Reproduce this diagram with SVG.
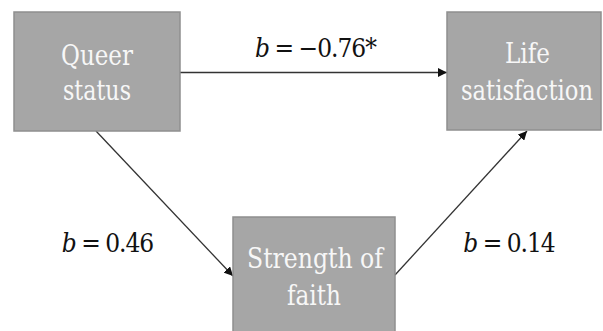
<svg xmlns="http://www.w3.org/2000/svg" width="603" height="331" viewBox="0 0 603 331">
<style>
.box{fill:#a6a6a6;stroke:#8f8f8f;stroke-width:1.5}
.nt{font-family:'DejaVu Serif Condensed','DejaVu Serif',serif;font-size:28px;fill:#f7f7f7;text-anchor:middle}
.lb{font-family:'DejaVu Serif Condensed','DejaVu Serif',serif;font-size:26px;fill:#111;text-anchor:middle;letter-spacing:-1px;word-spacing:-1px}
.ed{stroke:#333;stroke-width:1.3;fill:none}
</style>
<defs>
<marker id="ah" viewBox="0 0 10 10" refX="10" refY="5" markerWidth="9" markerHeight="9" markerUnits="userSpaceOnUse" orient="auto">
<path d="M0,0 L10,5 L0,10 z" fill="#111"/>
</marker>
</defs>
<g id="connectors">
<line class="ed" x1="180" y1="72.5" x2="447" y2="72.5" marker-end="url(#ah)"/>
<line class="ed" x1="96" y1="131" x2="233" y2="276" marker-end="url(#ah)"/>
<line class="ed" x1="395" y1="275" x2="527" y2="131" marker-end="url(#ah)"/>
</g>
<g id="queer">
<rect class="box" x="14" y="12" width="166" height="119"/>
<text class="nt" x="97" y="65" textLength="72" lengthAdjust="spacingAndGlyphs">Queer</text>
<text class="nt" x="97" y="100" textLength="68" lengthAdjust="spacingAndGlyphs">status</text>
</g>
<g id="life">
<rect class="box" x="447" y="12" width="154" height="118"/>
<text class="nt" x="527.5" y="63" textLength="45" lengthAdjust="spacingAndGlyphs">Life</text>
<text class="nt" x="527" y="100" font-size="25" textLength="132" lengthAdjust="spacingAndGlyphs">satisfaction</text>
</g>
<g id="faith">
<rect class="box" x="233" y="217" width="162" height="125"/>
<text class="nt" x="315" y="268" textLength="136" lengthAdjust="spacingAndGlyphs">Strength of</text>
<text class="nt" x="314" y="305" textLength="54" lengthAdjust="spacingAndGlyphs">faith</text>
</g>
<g id="labels">
<text class="lb" x="107.5" y="252"><tspan font-style="italic">b</tspan> = 0.46</text>
<text class="lb" x="315.5" y="57"><tspan font-style="italic">b</tspan> = −0.76*</text>
<text class="lb" x="509" y="252"><tspan font-style="italic">b</tspan> = 0.14</text>
</g>
</svg>
